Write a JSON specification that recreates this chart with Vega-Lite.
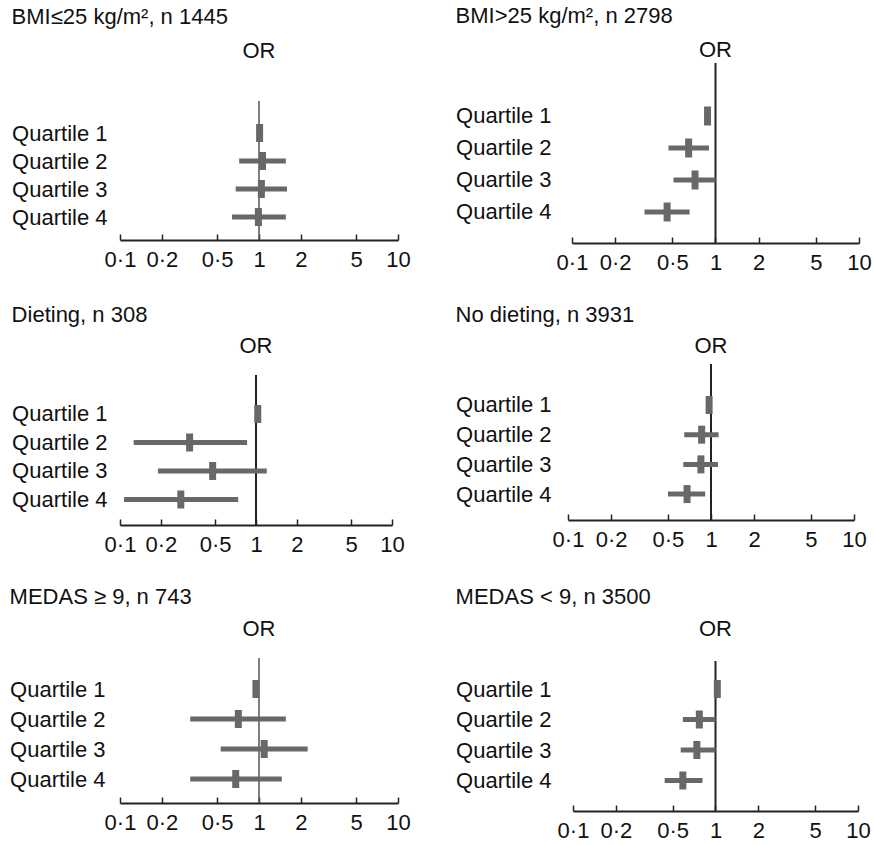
{
  "$schema": "https://vega.github.io/schema/vega-lite/v6.json",
  "padding": {"left": 9, "top": 5, "right": 0, "bottom": 2},
  "background": "white",
  "data": {
    "values": [
      {"g": "p1", "row": 1, "est": 1.01, "lo": null, "hi": null},
      {"g": "p1", "row": 2, "est": 1.06, "lo": 0.72, "hi": 1.56},
      {"g": "p1", "row": 3, "est": 1.04, "lo": 0.68, "hi": 1.59},
      {"g": "p1", "row": 4, "est": 0.99, "lo": 0.64, "hi": 1.56},
      {"g": "p2", "row": 1, "est": 0.88, "lo": null, "hi": null},
      {"g": "p2", "row": 2, "est": 0.65, "lo": 0.47, "hi": 0.9},
      {"g": "p2", "row": 3, "est": 0.72, "lo": 0.51, "hi": 1.0},
      {"g": "p2", "row": 4, "est": 0.46, "lo": 0.32, "hi": 0.66},
      {"g": "p3", "row": 1, "est": 1.03, "lo": null, "hi": null},
      {"g": "p3", "row": 2, "est": 0.325, "lo": 0.126, "hi": 0.86},
      {"g": "p3", "row": 3, "est": 0.48, "lo": 0.19, "hi": 1.2},
      {"g": "p3", "row": 4, "est": 0.28, "lo": 0.107, "hi": 0.74},
      {"g": "p4", "row": 1, "est": 0.97, "lo": null, "hi": null},
      {"g": "p4", "row": 2, "est": 0.86, "lo": 0.65, "hi": 1.13},
      {"g": "p4", "row": 3, "est": 0.85, "lo": 0.64, "hi": 1.12},
      {"g": "p4", "row": 4, "est": 0.68, "lo": 0.5, "hi": 0.91},
      {"g": "p5", "row": 1, "est": 0.95, "lo": null, "hi": null},
      {"g": "p5", "row": 2, "est": 0.71, "lo": 0.32, "hi": 1.56},
      {"g": "p5", "row": 3, "est": 1.09, "lo": 0.53, "hi": 2.24},
      {"g": "p5", "row": 4, "est": 0.68, "lo": 0.32, "hi": 1.46},
      {"g": "p6", "row": 1, "est": 1.03, "lo": null, "hi": null},
      {"g": "p6", "row": 2, "est": 0.77, "lo": 0.59, "hi": 1.0},
      {"g": "p6", "row": 3, "est": 0.74, "lo": 0.57, "hi": 1.0},
      {"g": "p6", "row": 4, "est": 0.59, "lo": 0.44, "hi": 0.81}
    ]
  },
  "spacing": 31,
  "vconcat": [
    {
      "spacing": 44,
      "hconcat": [
        {
          "title": {"text": "BMI≤25 kg/m², n 1445"},
          "vconcat": [{
            "title": {"text": "OR", "anchor": "middle", "frame": "group", "offset": 0},
            "width": 278, "height": 177,
            "transform": [{"filter": "datum.g == 'p1'"}],
            "layer": [
              {"data": {"values": [{"ref": 1}]}, "mark": {"type": "rule", "color": "#555", "strokeWidth": 1.5}, "encoding": {"x": {"field": "ref", "type": "quantitative", "scale": {"type": "log", "domain": [0.1, 10], "nice": false}}, "y": {"datum": -0.14}, "y2": {"datum": 4.82}}},
              {"mark": {"type": "rule", "color": "#686868", "strokeWidth": 5}, "encoding": {"x": {"field": "lo", "type": "quantitative", "scale": {"type": "log", "domain": [0.1, 10], "nice": false}, "axis": {"values": [0.1, 0.2, 0.5, 1, 2, 5, 10], "labelExpr": "replace(datum.value + '', '.', '·')"}}, "x2": {"field": "hi"}, "y": {"field": "row", "type": "quantitative", "scale": {"domain": [-1.5, 4.82], "reverse": true, "nice": false, "zero": false}, "axis": {"values": [1, 2, 3, 4], "labelExpr": "'Quartile ' + datum.value", "labelPadding": 13}}}},
              {"mark": {"type": "tick", "color": "#686868", "size": 18, "thickness": 7, "opacity": 1, "orient": "vertical"}, "encoding": {"x": {"field": "est", "type": "quantitative"}, "y": {"field": "row", "type": "quantitative"}}}
            ]
          }]
        },
        {
          "title": {"text": "BMI>25 kg/m², n 2798"},
          "vconcat": [{
            "title": {"text": "OR", "anchor": "middle", "frame": "group", "offset": 0},
            "width": 287, "height": 180,
            "transform": [{"filter": "datum.g == 'p2'"}],
            "layer": [
              {"data": {"values": [{"ref": 1}]}, "mark": {"type": "rule", "color": "#222", "strokeWidth": 2}, "encoding": {"x": {"field": "ref", "type": "quantitative", "scale": {"type": "log", "domain": [0.1, 10], "nice": false}}, "y": {"datum": -0.656}, "y2": {"datum": 4.969}}},
              {"mark": {"type": "rule", "color": "#686868", "strokeWidth": 5}, "encoding": {"x": {"field": "lo", "type": "quantitative", "scale": {"type": "log", "domain": [0.1, 10], "nice": false}, "axis": {"values": [0.1, 0.2, 0.5, 1, 2, 5, 10], "labelExpr": "replace(datum.value + '', '.', '·')"}}, "x2": {"field": "hi"}, "y": {"field": "row", "type": "quantitative", "scale": {"domain": [-0.656, 4.969], "reverse": true, "nice": false, "zero": false}, "axis": {"values": [1, 2, 3, 4], "labelExpr": "'Quartile ' + datum.value", "labelPadding": 21}}}},
              {"mark": {"type": "tick", "color": "#686868", "size": 19, "thickness": 7, "opacity": 1, "orient": "vertical"}, "encoding": {"x": {"field": "est", "type": "quantitative"}, "y": {"field": "row", "type": "quantitative"}}}
            ]
          }]
        }
      ]
    },
    {
      "spacing": 50,
      "hconcat": [
        {
          "title": {"text": "Dieting, n 308", "offset": 8},
          "vconcat": [{
            "title": {"text": "OR", "anchor": "middle", "frame": "group", "offset": 0},
            "width": 272, "height": 167,
            "transform": [{"filter": "datum.g == 'p3'"}],
            "layer": [
              {"data": {"values": [{"ref": 1}]}, "mark": {"type": "rule", "color": "#222", "strokeWidth": 2}, "encoding": {"x": {"field": "ref", "type": "quantitative", "scale": {"type": "log", "domain": [0.1, 10], "nice": false}}, "y": {"datum": -0.369}, "y2": {"datum": 4.895}}},
              {"mark": {"type": "rule", "color": "#686868", "strokeWidth": 5}, "encoding": {"x": {"field": "lo", "type": "quantitative", "scale": {"type": "log", "domain": [0.1, 10], "nice": false}, "axis": {"values": [0.1, 0.2, 0.5, 1, 2, 5, 10], "labelExpr": "replace(datum.value + '', '.', '·')"}}, "x2": {"field": "hi"}, "y": {"field": "row", "type": "quantitative", "scale": {"domain": [-0.965, 4.895], "reverse": true, "nice": false, "zero": false}, "axis": {"values": [1, 2, 3, 4], "labelExpr": "'Quartile ' + datum.value", "labelPadding": 13}}}},
              {"mark": {"type": "tick", "color": "#686868", "size": 18, "thickness": 7, "opacity": 1, "orient": "vertical"}, "encoding": {"x": {"field": "est", "type": "quantitative"}, "y": {"field": "row", "type": "quantitative"}}}
            ]
          }]
        },
        {
          "title": {"text": "No dieting, n 3931", "offset": 8},
          "vconcat": [{
            "title": {"text": "OR", "anchor": "middle", "frame": "group", "offset": 0},
            "width": 286, "height": 162,
            "transform": [{"filter": "datum.g == 'p4'"}],
            "layer": [
              {"data": {"values": [{"ref": 1}]}, "mark": {"type": "rule", "color": "#222", "strokeWidth": 2}, "encoding": {"x": {"field": "ref", "type": "quantitative", "scale": {"type": "log", "domain": [0.1, 10], "nice": false}}, "y": {"datum": -0.38}, "y2": {"datum": 4.873}}},
              {"mark": {"type": "rule", "color": "#686868", "strokeWidth": 5}, "encoding": {"x": {"field": "lo", "type": "quantitative", "scale": {"type": "log", "domain": [0.1, 10], "nice": false}, "axis": {"values": [0.1, 0.2, 0.5, 1, 2, 5, 10], "labelExpr": "replace(datum.value + '', '.', '·')"}}, "x2": {"field": "hi"}, "y": {"field": "row", "type": "quantitative", "scale": {"domain": [-0.582, 4.873], "reverse": true, "nice": false, "zero": false}, "axis": {"values": [1, 2, 3, 4], "labelExpr": "'Quartile ' + datum.value", "labelPadding": 17}}}},
              {"mark": {"type": "tick", "color": "#686868", "size": 18, "thickness": 7, "opacity": 1, "orient": "vertical"}, "encoding": {"x": {"field": "est", "type": "quantitative"}, "y": {"field": "row", "type": "quantitative"}}}
            ]
          }]
        }
      ]
    },
    {
      "spacing": 44,
      "hconcat": [
        {
          "title": {"text": "MEDAS ≥ 9, n 743", "offset": 9},
          "vconcat": [{
            "title": {"text": "OR", "anchor": "middle", "frame": "group", "offset": 0},
            "width": 278, "height": 162,
            "transform": [{"filter": "datum.g == 'p5'"}],
            "layer": [
              {"data": {"values": [{"ref": 1}]}, "mark": {"type": "rule", "color": "#555", "strokeWidth": 1.5}, "encoding": {"x": {"field": "ref", "type": "quantitative", "scale": {"type": "log", "domain": [0.1, 10], "nice": false}}, "y": {"datum": -0.033}, "y2": {"datum": 4.8}}},
              {"mark": {"type": "rule", "color": "#686868", "strokeWidth": 5}, "encoding": {"x": {"field": "lo", "type": "quantitative", "scale": {"type": "log", "domain": [0.1, 10], "nice": false}, "axis": {"values": [0.1, 0.2, 0.5, 1, 2, 5, 10], "labelExpr": "replace(datum.value + '', '.', '·')"}}, "x2": {"field": "hi"}, "y": {"field": "row", "type": "quantitative", "scale": {"domain": [-0.6, 4.8], "reverse": true, "nice": false, "zero": false}, "axis": {"values": [1, 2, 3, 4], "labelExpr": "'Quartile ' + datum.value", "labelPadding": 15}}}},
              {"mark": {"type": "tick", "color": "#686868", "size": 18, "thickness": 7, "opacity": 1, "orient": "vertical"}, "encoding": {"x": {"field": "est", "type": "quantitative"}, "y": {"field": "row", "type": "quantitative"}}}
            ]
          }]
        },
        {
          "title": {"text": "MEDAS < 9, n 3500", "offset": 9},
          "vconcat": [{
            "title": {"text": "OR", "anchor": "middle", "frame": "group", "offset": 0},
            "width": 285, "height": 170,
            "transform": [{"filter": "datum.g == 'p6'"}],
            "layer": [
              {"data": {"values": [{"ref": 1}]}, "mark": {"type": "rule", "color": "#222", "strokeWidth": 2}, "encoding": {"x": {"field": "ref", "type": "quantitative", "scale": {"type": "log", "domain": [0.1, 10], "nice": false}}, "y": {"datum": 0.082}, "y2": {"datum": 5.0}}},
              {"mark": {"type": "rule", "color": "#686868", "strokeWidth": 5}, "encoding": {"x": {"field": "lo", "type": "quantitative", "scale": {"type": "log", "domain": [0.1, 10], "nice": false}, "axis": {"values": [0.1, 0.2, 0.5, 1, 2, 5, 10], "labelExpr": "replace(datum.value + '', '.', '·')"}}, "x2": {"field": "hi"}, "y": {"field": "row", "type": "quantitative", "scale": {"domain": [-0.574, 5.0], "reverse": true, "nice": false, "zero": false}, "axis": {"values": [1, 2, 3, 4], "labelExpr": "'Quartile ' + datum.value", "labelPadding": 22}}}},
              {"mark": {"type": "tick", "color": "#686868", "size": 18, "thickness": 7, "opacity": 1, "orient": "vertical"}, "encoding": {"x": {"field": "est", "type": "quantitative"}, "y": {"field": "row", "type": "quantitative"}}}
            ]
          }]
        }
      ]
    }
  ],
  "config": {
    "font": "Liberation Sans",
    "view": {"stroke": null},
    "title": {"anchor": "start", "frame": "bounds", "fontSize": 22, "fontWeight": "normal", "color": "#111", "offset": 11},
    "axisX": {"title": null, "grid": false, "domainColor": "#222", "domainWidth": 1.8, "tickColor": "#222", "tickWidth": 1.5, "tickSize": -6, "labelFontSize": 22, "labelColor": "#111", "labelPadding": 15, "labelFlush": false},
    "axisY": {"title": null, "domain": false, "ticks": false, "grid": false, "labelFontSize": 22, "labelColor": "#111"}
  }
}
